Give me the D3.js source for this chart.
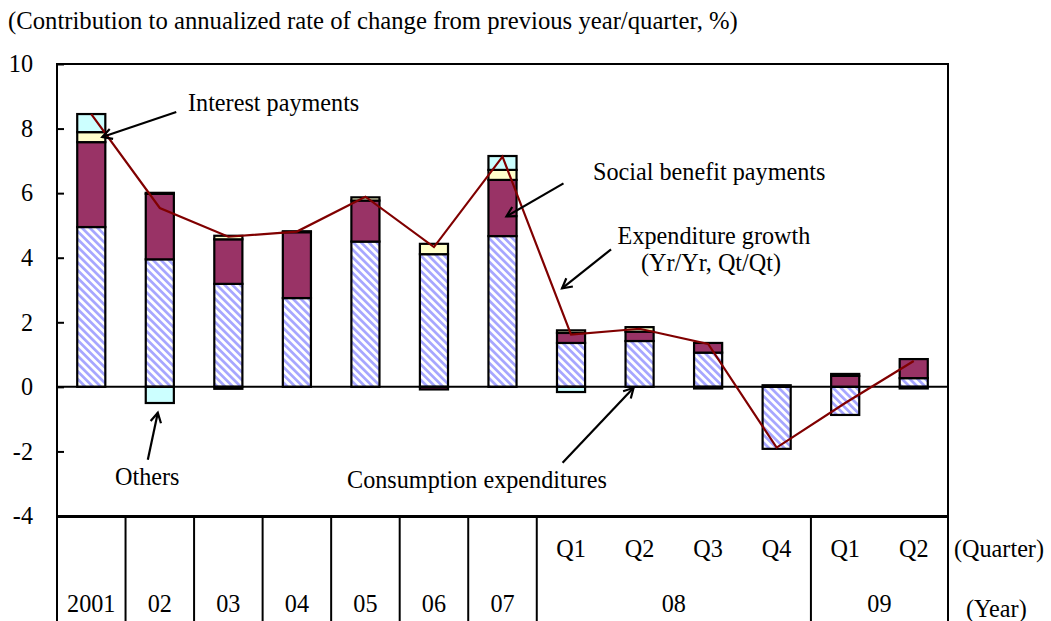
<!DOCTYPE html>
<html>
<head>
<meta charset="utf-8">
<script src="https://cdn.jsdelivr.net/npm/d3@7/dist/d3.min.js"></script>
<style>
  html, body { margin: 0; padding: 0; background: #fff; }
  svg { display: block; }
  text { font-family: "Liberation Serif", "Times New Roman", serif; fill: #000; }
</style>
</head>
<body>
<svg id="chart" width="1051" height="621"></svg>
<script>
// ---------------- DATA ----------------
const categories = ["2001","02","03","04","05","06","07","08Q1","08Q2","08Q3","08Q4","09Q1","09Q2"];
const quarterLabels = ["","","","","","","","Q1","Q2","Q3","Q4","Q1","Q2"];
const yearGroups = [
  {label:"2001", start:0, span:1}, {label:"02", start:1, span:1}, {label:"03", start:2, span:1},
  {label:"04", start:3, span:1}, {label:"05", start:4, span:1}, {label:"06", start:5, span:1},
  {label:"07", start:6, span:1}, {label:"08", start:7, span:4}, {label:"09", start:11, span:2}
];
const consumption = [4.95, 3.95, 3.19, 2.75, 4.50, 4.11, 4.67, 1.36, 1.42, 1.06, -1.92, -0.87, 0.27];
const social      = [2.63, 2.03, 1.38, 2.04, 1.27, -0.08, 1.74, 0.31, 0.29, 0.30, 0.05, 0.34, 0.59];
const interest    = [0.31, 0.03, 0.11, 0.03, 0.10, 0.32, 0.31, 0.08, 0.14, 0.00, 0.00, 0.06, 0.00];
const others      = [0.56, -0.50, -0.06, 0.00, 0.00, 0.00, 0.43, -0.16, 0.00, -0.05, 0.00, 0.00, -0.05];
const growth      = [8.45, 5.54, 4.65, 4.81, 5.89, 4.33, 7.13, 1.62, 1.80, 1.33, -1.88, -0.50, 0.80];
const yTicks = [-4, -2, 0, 2, 4, 6, 8, 10];
const titleText = "(Contribution to annualized rate of change from previous year/quarter, %)";

// ---------------- LAYOUT ----------------
const svg = d3.select("#chart");
const L = 57, R = 948, T = 64, B = 516, AXB = 621;
const FS = 24.2;

const x = d3.scaleBand().domain(categories).range([L, R]).paddingInner(0).paddingOuter(0);
const y = d3.scaleLinear().domain([-4, 10]).range([B, T]);
const barW = x.bandwidth() * 0.41;
const cx = c => x(c) + x.bandwidth() / 2;

// hatch pattern
const defs = svg.append("defs");
const pat = defs.append("pattern").attr("id", "hatch").attr("patternUnits", "userSpaceOnUse")
  .attr("width", 5.5).attr("height", 5.5).attr("patternTransform", "rotate(-45)");
pat.append("rect").attr("width", 5.5).attr("height", 5.5).attr("fill", "#ffffff");
pat.append("rect").attr("x", 0).attr("width", 2.7).attr("height", 5.5).attr("fill", "#a6a6ff");

// stacked data
const keys = ["consumption", "social", "interest", "others"];
const fills = {consumption: "url(#hatch)", social: "#993366", interest: "#ffffcc", others: "#ccffff"};
const rows = categories.map((c, i) => ({cat: c, consumption: consumption[i], social: social[i], interest: interest[i], others: others[i]}));
const series = d3.stack().keys(keys).offset(d3.stackOffsetDiverging)(rows);

// title
svg.append("text").attr("x", 8).attr("y", 29).attr("font-size", 24.7).text(titleText);

// bars
const barsG = svg.append("g");
series.forEach(s => {
  barsG.selectAll(null).data(s.filter(d => Math.abs(d[1] - d[0]) > 1e-9)).enter().append("rect")
    .attr("x", d => cx(d.data.cat) - barW / 2)
    .attr("width", barW)
    .attr("y", d => y(Math.max(d[0], d[1])))
    .attr("height", d => Math.abs(y(d[0]) - y(d[1])))
    .attr("fill", fills[s.key])
    .attr("stroke", "#000")
    .attr("stroke-width", 2.2);
});

// zero line
svg.append("line").attr("x1", L).attr("x2", R).attr("y1", y(0)).attr("y2", y(0))
  .attr("stroke", "#000").attr("stroke-width", 2);

// plot frame
svg.append("rect").attr("x", L).attr("y", T).attr("width", R - L).attr("height", B - T)
  .attr("fill", "none").attr("stroke", "#000").attr("stroke-width", 2);
svg.append("line").attr("x1", L).attr("x2", R).attr("y1", B + 1).attr("y2", B + 1)
  .attr("stroke", "#000").attr("stroke-width", 2);

// y axis
const yAxis = d3.axisLeft(y).tickValues(yTicks).tickSize(-7).tickPadding(24).tickFormat(d => String(d));
const yg = svg.append("g").attr("transform", `translate(${L},0)`).call(yAxis);
yg.select(".domain").remove();
yg.selectAll(".tick line").attr("stroke", "#000").attr("stroke-width", 2);
yg.selectAll(".tick text").attr("font-size", FS).attr("font-family", "Liberation Serif, serif").attr("fill", "#000");

// growth line
const line = d3.line().x((d, i) => cx(categories[i])).y(d => y(d));
svg.append("path").datum(growth).attr("d", line).attr("fill", "none")
  .attr("stroke", "#800000").attr("stroke-width", 2.2).attr("stroke-linejoin", "miter");

// category axis lines (below plot)
const sepIdx = yearGroups.map(g => g.start).concat([categories.length]);
sepIdx.forEach(i => {
  const xx = i < categories.length ? x(categories[i]) : R;
  svg.append("line").attr("x1", xx).attr("x2", xx).attr("y1", B).attr("y2", AXB)
    .attr("stroke", "#000").attr("stroke-width", 2);
});
svg.append("g").selectAll("text").data(categories).enter().append("text")
  .attr("x", c => cx(c)).attr("y", 557).attr("text-anchor", "middle").attr("font-size", FS)
  .text((c, i) => quarterLabels[i]);
svg.append("g").selectAll("text").data(yearGroups).enter().append("text")
  .attr("x", g => x(categories[g.start]) + g.span * x.bandwidth() / 2)
  .attr("y", 612).attr("text-anchor", "middle").attr("font-size", FS)
  .text(g => g.label);
svg.append("text").attr("x", 954).attr("y", 557).attr("font-size", FS).text("(Quarter)");
svg.append("text").attr("x", 966).attr("y", 617).attr("font-size", FS).text("(Year)");

// annotations: arrow tip anchored to category / value, tail offset in px
const annotations = [
  {cat: "2001", dx: 11, value: 7.74, tailDx: 74, tailDy: -25},
  {cat: "02",   dx: -2, value: -0.80, tailDx: -10, tailDy: 47},
  {cat: "07",   dx: 4,  value: 5.28, tailDx: 57, tailDy: -33},
  {cat: "08Q1", dx: -9, value: 3.05, tailDx: 49, tailDy: -39},
  {cat: "08Q2", dx: -6, value: -0.03, tailDx: -71, tailDy: 75}
];
const labels = [
  {text: "Interest payments", x: 188, y: 111, anchor: "start"},
  {text: "Social benefit payments", x: 593, y: 180, anchor: "start"},
  {text: "Expenditure growth", x: 714, y: 244, anchor: "middle"},
  {text: "(Yr/Yr, Qt/Qt)", x: 711, y: 271, anchor: "middle"},
  {text: "Others", x: 115, y: 485, anchor: "start"},
  {text: "Consumption expenditures", x: 347, y: 488, anchor: "start"}
];
const ag = svg.append("g").attr("stroke", "#000").attr("stroke-width", 2.2).attr("fill", "none");
annotations.forEach(a => {
  const tx = cx(a.cat) + a.dx, ty = y(a.value);
  const sx = tx + a.tailDx, sy = ty + a.tailDy;
  ag.append("line").attr("x1", sx).attr("y1", sy).attr("x2", tx).attr("y2", ty);
  const ang = Math.atan2(ty - sy, tx - sx);
  const hl = 11, ha = 0.5;
  const p1 = [tx - hl * Math.cos(ang - ha), ty - hl * Math.sin(ang - ha)];
  const p2 = [tx - hl * Math.cos(ang + ha), ty - hl * Math.sin(ang + ha)];
  ag.append("path").attr("d", `M${p1[0]},${p1[1]}L${tx},${ty}L${p2[0]},${p2[1]}`);
});
svg.append("g").selectAll("text").data(labels).enter().append("text")
  .attr("x", d => d.x).attr("y", d => d.y).attr("text-anchor", d => d.anchor)
  .attr("font-size", FS).text(d => d.text);
</script>
</body>
</html>
